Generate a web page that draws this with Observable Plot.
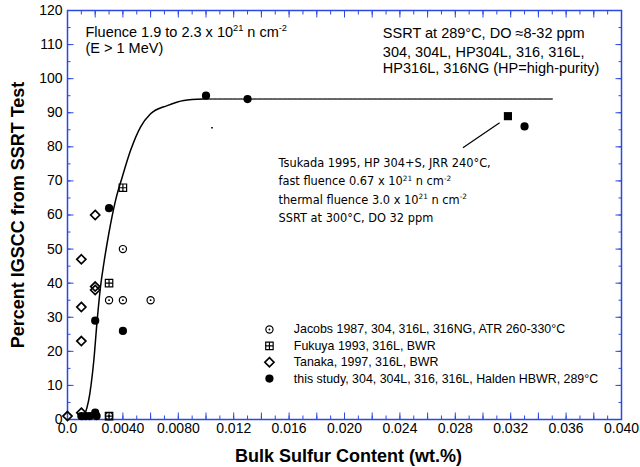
<!DOCTYPE html>
<html>
<head>
<meta charset="utf-8">
<script src="https://cdn.jsdelivr.net/npm/d3@7"></script>
<script src="https://cdn.jsdelivr.net/npm/@observablehq/plot@0.6"></script>
<style>
  html, body { margin: 0; padding: 0; background: #fff; }
</style>
</head>
<body>
<div id="chart"></div>
<script>
// Bulk sulfur content (wt.%) vs percent IGSCC measured in SSRT tests

// Jacobs 1987, 304, 316L, 316NG, ATR 260-330°C
const jacobsS   = [0.003, 0.004, 0.006, 0.004, 0.003];
const jacobsPct = [35, 35, 35, 50, 1];

// Fukuya 1993, 316L, BWR
const fukuyaS   = [0.004, 0.003, 0.003];
const fukuyaPct = [68, 40, 1];

// Tanaka, 1997, 316L, BWR
const tanakaS   = [0.0, 0.001, 0.001, 0.001, 0.001, 0.002, 0.002, 0.002];
const tanakaPct = [1, 2, 23, 33, 47, 38, 39, 60];

// this study, Halden HBWR, 289°C
const studyS   = [0.010, 0.013, 0.033, 0.003, 0.002, 0.004, 0.001, 0.0013, 0.0016, 0.002, 0.0021];
const studyPct = [95, 94, 86, 62, 29, 26, 1, 1, 1, 2, 1];

// Tsukada 1995, HP 304+S, JRR 240°C
const tsukadaS   = [0.0318];
const tsukadaPct = [89];

// Trend curve: steep rise, then plateau
const curveS   = [0.0011, 0.00161, 0.0019, 0.00214, 0.00238, 0.00262, 0.00298, 0.00347, 0.00395, 0.00455, 0.00527, 0.006, 0.0072, 0.0084, 0.0098];
const curvePct = [0, 7.5, 17.3, 29, 38.8, 45.7, 54.5, 64.3, 71.1, 78.9, 85.8, 89.7, 92.1, 93.6, 94];
const plateauS   = [0.0098, 0.035];
const plateauPct = [94, 94];

// Leader from the Tsukada note to its point
const leaderFrom = [0.02855, 79.7];
const leaderTo   = [0.0312, 87.1];

// Axis ticks and labels
const xTickValues = [0, 0.004, 0.008, 0.012, 0.016, 0.020, 0.024, 0.028, 0.032, 0.036, 0.040];
const xTickLabels = ["0.0", "0.0040", "0.0080", "0.012", "0.016", "0.020", "0.024", "0.028", "0.032", "0.036", "0.040"];
const yTickValues = [0, 10, 20, 30, 40, 50, 60, 70, 80, 90, 100, 110, 120];
const yTickLabels = ["0", "10", "20", "30", "40", "50", "60", "70", "80", "90", "100", "110", "120"];

// Texts
const xTitle = "Bulk Sulfur Content (wt.%)";
const yTitle = "Percent IGSCC from SSRT Test";
const fluenceNote = ["Fluence 1.9 to 2.3 x 10^{21} n cm^{-2}", "(E > 1 MeV)"];
const ssrtNote = ["SSRT at 289°C, DO ≈8-32 ppm", "304, 304L, HP304L, 316, 316L,", "HP316L, 316NG (HP=high-purity)"];
const tsukadaNote = [
  "Tsukada 1995, HP 304+S, JRR 240°C,",
  "fast fluence 0.67 x 10^{21} n cm^{-2}",
  "thermal fluence 3.0 x 10^{21} n cm^{-2}",
  "SSRT at 300°C, DO 32 ppm"
];
const legendLabels = [
  "Jacobs 1987, 304, 316L, 316NG, ATR 260-330°C",
  "Fukuya 1993, 316L, BWR",
  "Tanaka, 1997, 316L, BWR",
  "this study, 304, 304L, 316, 316L, Halden HBWR, 289°C"
];

// ---- helpers -------------------------------------------------------------
const pts = (xs, ys) => xs.map((x, i) => ({x, y: ys[i]}));
const seq = (lo, hi, step) => d3.range(Math.round((hi - lo) / step) + 1).map(i => +(lo + i * step).toFixed(6));

const blue = "#2c48e2";
const xMinor = seq(0, 0.04, 0.001);
const xMajor = seq(0, 0.04, 0.002);
const yMinor = seq(0, 120, 5);
const yMajor = seq(0, 120, 10);
const xLabel = new Map(xTickValues.map((v, i) => [v, xTickLabels[i]]));
const yLabel = new Map(yTickValues.map((v, i) => [v, yTickLabels[i]]));

// symbol styles, shared by the data and the legend
const jacobsMarks = (data) => [
  Plot.dot(data, {x: "x", y: "y", r: 3.6, stroke: "black", strokeWidth: 1.2, fill: "none"}),
  Plot.dot(data, {x: "x", y: "y", r: 0.9, fill: "black"})
];
const fukuyaMarks = (data) => [
  Plot.dot(data, {x: "x", y: "y", symbol: "square", r: 4.2, stroke: "black", strokeWidth: 1.2, fill: "none"}),
  Plot.dot(data, {x: "x", y: "y", symbol: "plus", r: 2.5, stroke: "black", strokeWidth: 1.2})
];
const tanakaMarks = (data) => [
  Plot.dot(data, {x: "x", y: "y", symbol: "diamond2", r: 4.1, stroke: "black", strokeWidth: 1.7, fill: "none"})
];
const studyMarks = (data) => [
  Plot.dot(data, {x: "x", y: "y", r: 4.1, fill: "black", stroke: "none"})
];

// legend rows, laid out in data units inside the plot frame
const legendSymbolX = 0.01458, legendTextX = 0.01634, legendTop = 26.4, legendStep = 4.8;
const legendRow = i => [{x: legendSymbolX, y: legendTop - i * legendStep}];
const legendText = legendLabels.map((label, i) => ({label, x: legendTextX, y: legendTop - i * legendStep}));

const lines = (arr, x, top, step) => arr.map((label, i) => ({label, x, y: top - i * step}));

const tickAxes = (anchorX, anchorY) => [
  Plot.axisX(xMinor, {anchor: anchorX, tickSize: -3.5, tickFormat: () => "", stroke: blue, label: null}),
  Plot.axisX(xMajor, {anchor: anchorX, tickSize: -6.5, tickFormat: () => "", stroke: blue, label: null}),
  Plot.axisY(yMinor, {anchor: anchorY, tickSize: -3.5, tickFormat: () => "", stroke: blue, label: null}),
  Plot.axisY(yMajor, {anchor: anchorY, tickSize: -6.5, tickFormat: () => "", stroke: blue, label: null})
];

const chart = Plot.plot({
  width: 640,
  height: 467,
  marginTop: 10,
  marginBottom: 48,
  marginLeft: 67,
  marginRight: 19,
  style: {fontFamily: "'Liberation Sans', Arial, Helvetica, sans-serif", background: "white", color: "black"},
  x: {domain: [0, 0.04]},
  y: {domain: [0, 120]},
  marks: [
    // inward ticks on all four sides
    ...tickAxes("bottom", "left"),
    ...tickAxes("top", "right"),
    // tick labels
    Plot.axisX(xTickValues, {anchor: "bottom", tickSize: 0, tickPadding: 4, fontSize: 14, tickFormat: d => xLabel.get(d), label: null}),
    Plot.axisY(yTickValues, {anchor: "left", tickSize: 0, tickPadding: 5, fontSize: 14, tickFormat: d => yLabel.get(d), label: null}),
    Plot.frame({stroke: blue, strokeWidth: 1.5}),

    // axis titles
    Plot.text([xTitle], {frameAnchor: "bottom", textAnchor: "middle", lineAnchor: "middle", dx: 4, dy: 37, fontSize: 18, fontWeight: "bold", text: d => d}),
    Plot.text([yTitle], {frameAnchor: "left", textAnchor: "middle", lineAnchor: "middle", dx: -49, rotate: -90, fontSize: 18, fontWeight: "bold", text: d => d}),

    // trend curve and plateau
    Plot.line(pts(curveS, curvePct), {x: "x", y: "y", stroke: "black", strokeWidth: 1.5, curve: "monotone-x"}),
    Plot.line(pts(plateauS, plateauPct), {x: "x", y: "y", stroke: "#333", strokeWidth: 1.5, strokeDasharray: "4,1"}),
    Plot.ruleY([85.6], {x1: 0.01041, x2: 0.01053, stroke: "black", strokeWidth: 1.3}),

    // data series
    ...tanakaMarks(pts(tanakaS, tanakaPct)),
    ...jacobsMarks(pts(jacobsS, jacobsPct)),
    ...fukuyaMarks(pts(fukuyaS, fukuyaPct)),
    ...studyMarks(pts(studyS, studyPct)),
    Plot.dot(pts(tsukadaS, tsukadaPct), {x: "x", y: "y", symbol: "square", r: 4.6, fill: "black"}),
    Plot.link([{a: leaderFrom, b: leaderTo}], {x1: d => d.a[0], y1: d => d.a[1], x2: d => d.b[0], y2: d => d.b[1], stroke: "black", strokeWidth: 1.2}),

    // notes
    Plot.text(lines(fluenceNote, 0.0013, 113.6, 4.85), {x: "x", y: "y", text: "label", textAnchor: "start", fontSize: 14.5}),
    Plot.text(lines(ssrtNote.slice(0, 1), 0.02277, 113.2, 0), {x: "x", y: "y", text: "label", textAnchor: "start", fontSize: 14.5}),
    Plot.text(lines(ssrtNote.slice(1), 0.02277, 107.8, 4.9), {x: "x", y: "y", text: "label", textAnchor: "start", fontSize: 14.5}),
    Plot.text(lines(tsukadaNote, 0.01523, 75.1, 5.37), {x: "x", y: "y", text: "label", textAnchor: "start", fontSize: 11.4, fontFamily: "'DejaVu Sans', Verdana, sans-serif"}),

    // legend
    ...jacobsMarks(legendRow(0)),
    ...fukuyaMarks(legendRow(1)),
    ...tanakaMarks(legendRow(2)),
    ...studyMarks(legendRow(3)),
    Plot.text(legendText, {x: "x", y: "y", text: "label", textAnchor: "start", fontSize: 12.4})
  ]
});

document.getElementById("chart").appendChild(chart);

// turn ^{...} runs into raised, smaller tspans
function renderSuperscripts(root) {
  const ns = "http://www.w3.org/2000/svg";
  const walker = document.createTreeWalker(root, NodeFilter.SHOW_TEXT);
  const nodes = [];
  while (walker.nextNode()) if (walker.currentNode.nodeValue.includes("^{")) nodes.push(walker.currentNode);
  for (const node of nodes) {
    const host = node.parentNode;
    const fs = parseFloat(getComputedStyle(host).fontSize);
    const rise = fs * 0.42;
    const frag = document.createDocumentFragment();
    let raised = false;
    node.nodeValue.split(/\^\{([^}]*)\}/).forEach((part, i) => {
      if (!part) return;
      const t = document.createElementNS(ns, "tspan");
      t.textContent = part;
      if (i % 2) {
        t.setAttribute("font-size", (fs * 0.64).toFixed(2));
        t.setAttribute("dy", (-rise).toFixed(2));
        raised = true;
      } else if (raised) {
        t.setAttribute("dy", rise.toFixed(2));
        raised = false;
      }
      frag.appendChild(t);
    });
    host.replaceChild(frag, node);
  }
}
renderSuperscripts(chart);
</script>
</body>
</html>
